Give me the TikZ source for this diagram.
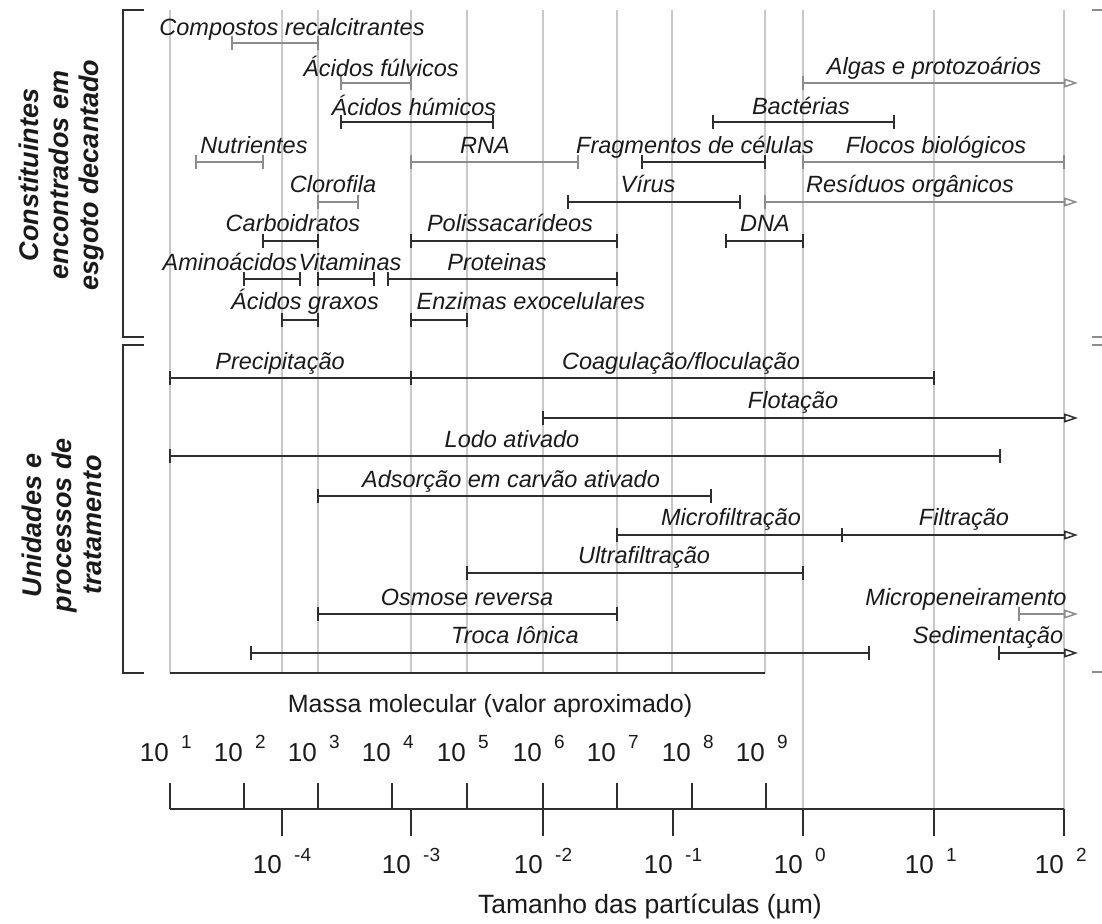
\documentclass[tikz,border=0pt]{standalone}
\usepackage{fontspec}
\setmainfont{Liberation Sans}
\usetikzlibrary{arrows.meta}
\definecolor{ink}{HTML}{1A1A1A}
\definecolor{barDark}{HTML}{2E2E2E}
\definecolor{barGray}{HTML}{8C8C8C}
\definecolor{gridgray}{HTML}{C8C8C8}

% range bar with end ticks and a label: name, style, x1, x2, y, label x, label baseline, text
\newcommand\rangebar[8]{%
  \draw[#2] (#3,#5) -- (#4,#5);
  \draw[#2] (#3,#5-7) -- (#3,#5+7);
  \draw[#2] (#4,#5-7) -- (#4,#5+7);
  \node[lbl] (#1) at (#6,#7) {#8};}
% open-ended range (arrow to the right edge): name, style, x1, y, label x, label baseline, text
\newcommand\rangearrow[7]{%
  \draw[#2] (#3,#4-7) -- (#3,#4+7);
  \draw[#2,rtip] (#3,#4) -- (1078,#4);
  \node[lbl] (#1) at (#5,#6) {#7};}

\begin{document}
\begin{tikzpicture}[x=1pt,y=-1pt,
  gridline/.style={gridgray, line width=1.5pt},
  dk/.style={barDark, line width=2.2pt},
  gy/.style={barGray, line width=2.2pt},
  frame/.style={barDark, line width=2.2pt},
  lbl/.style={anchor=base, inner sep=0pt, text=ink, font=\fontsize{23.5}{28}\selectfont\itshape},
  side/.style={rotate=90, align=center, inner sep=0pt, text=ink, font=\fontsize{27}{30}\selectfont\bfseries\itshape},
  axtitle/.style={inner sep=0pt, text=ink, font=\fontsize{25}{30}\selectfont},
  base/.style={anchor=base east, inner sep=0pt, text=ink, font=\fontsize{26}{30}\selectfont},
  expo/.style={anchor=base west, inner sep=0pt, text=ink, font=\fontsize{19}{22}\selectfont},
  rtip/.style={-{Triangle[open,length=14pt,width=9pt,line width=1.5pt]}}]
\useasboundingbox (0,0) rectangle (1102,923);

% grid lines
\foreach \x in {170,282,318,411,467,543,617,672,765}
  \draw[gridline] (\x,10) -- (\x,673);
\foreach \x in {803,934,1064}
  \draw[gridline] (\x,10) -- (\x,809);

% group brackets
\draw[frame] (144,10) -- (123,10) -- (123,337) -- (144,337);
\draw[frame] (144,345) -- (123,345) -- (123,673) -- (144,673);
\foreach \y in {10,337,345,672}
  \draw[barGray, line width=2pt] (1092,\y) -- (1102,\y);
\draw[frame] (170,673) -- (765,673);

% group titles
\node[side] (grpA) at (62,175) {Constituintes\\encontrados em\\esgoto decantado};
\node[side] (grpB) at (62,525) {Unidades e\\processos de\\tratamento};

% constituents
\rangebar{compostos}{gy}{232}{318}{43}{292}{36}{Compostos recalcitrantes}
\rangebar{fulvicos}{gy}{341}{411}{83}{381}{77}{Ácidos fúlvicos}
\rangearrow{algas}{gy}{803}{83}{934}{75}{Algas e protozoários}
\rangebar{humicos}{dk}{341}{493}{122}{414}{116}{Ácidos húmicos}
\rangebar{bacterias}{dk}{713}{894}{122}{801}{114}{Bactérias}
\rangebar{nutrientes}{gy}{196}{263}{162}{254}{153}{Nutrientes}
\rangebar{rna}{gy}{411}{578}{162}{485}{153}{RNA}
\rangebar{fragmentos}{dk}{642}{765}{162}{695}{153}{Fragmentos de células}
\rangebar{flocos}{gy}{803}{1064}{162}{936}{153}{Flocos biológicos}
\rangebar{clorofila}{gy}{318}{358}{202}{333}{192}{Clorofila}
\rangebar{virus}{dk}{568}{740}{202}{648}{192}{Vírus}
\rangearrow{residuos}{gy}{765}{202}{910}{192}{Resíduos orgânicos}
\rangebar{carboidratos}{dk}{263}{318}{241}{293}{231}{Carboidratos}
\rangebar{polissacarideos}{dk}{411}{617}{241}{510}{231}{Polissacarídeos}
\rangebar{dna}{dk}{726}{803}{241}{765}{231}{DNA}
\rangebar{aminoacidos}{dk}{244}{300}{279}{230}{270}{Aminoácidos}
\rangebar{vitaminas}{dk}{318}{374}{279}{350}{270}{Vitaminas}
\rangebar{proteinas}{dk}{388}{617}{279}{497}{270}{Proteinas}
\rangebar{graxos}{dk}{282}{318}{320}{305}{309}{Ácidos graxos}
\rangebar{enzimas}{dk}{411}{467}{320}{531}{309}{Enzimas exocelulares}

% treatment units and processes
\rangebar{precipitacao}{dk}{170}{411}{378}{280}{369}{Precipitação}
\rangebar{coagulacao}{dk}{411}{934}{378}{681}{369}{Coagulação/floculação}
\rangearrow{flotacao}{dk}{543}{418}{793}{408}{Flotação}
\rangebar{lodo}{dk}{170}{1000}{456}{512}{447}{Lodo ativado}
\rangebar{adsorcao}{dk}{318}{711}{496}{511}{487}{Adsorção em carvão ativado}
\rangebar{microfiltracao}{dk}{617}{842}{535}{731}{525}{Microfiltração}
\rangearrow{filtracao}{dk}{842}{535}{964}{525}{Filtração}
\rangebar{ultrafiltracao}{dk}{467}{803}{573}{644}{563}{Ultrafiltração}
\rangebar{osmose}{dk}{318}{617}{614}{467}{605}{Osmose reversa}
\rangearrow{micropeneiramento}{gy}{1019}{614}{966}{605}{Micropeneiramento}
\rangebar{troca}{dk}{251}{869}{653}{515}{643}{Troca Iônica}
\rangearrow{sedimentacao}{dk}{999}{653}{988}{643}{Sedimentação}

% scales
\node[axtitle] (massTitle) at (490,706) {Massa molecular (valor aproximado)};
\draw[frame] (170,809) -- (1064,809);
\foreach \x/\e in {170/1,244/2,318/3,392/4,467/5,543/6,617/7,692/8,766/9}{
  \draw[frame] (\x,783) -- (\x,809);
  \node[base] (m\e) at (\x-1,761) {10};
  \node[expo] (me\e) at (\x+11,748) {\e};
}
\foreach \x/\e/\n in {282/-4/a,411/-3/b,543/-2/c,673/-1/d,803/0/e,934/1/f,1064/2/g}{
  \draw[frame] (\x,809) -- (\x,836);
  \node[base] (s\n) at (\x,873) {10};
  \node[expo] (se\n) at (\x+12,861) {\e};
}
\node[axtitle, font=\fontsize{26.5}{30}\selectfont] (sizeTitle) at (650,906) {Tamanho das partículas (µm)};
\end{tikzpicture}
\end{document}
